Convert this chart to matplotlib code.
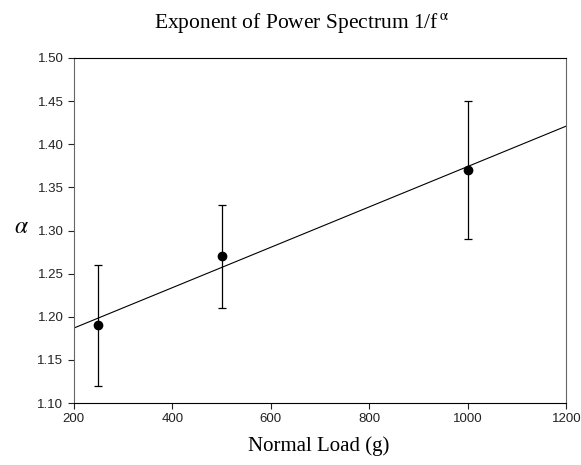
import numpy as np
import matplotlib
matplotlib.use('Agg')
import matplotlib.pyplot as plt

plt.rcParams['mathtext.fontset'] = 'stix'

# Data
load = [250, 500, 1000]
alpha = [1.19, 1.27, 1.37]
alpha_low = [1.12, 1.21, 1.29]
alpha_high = [1.26, 1.33, 1.45]

x_ticks = [200, 400, 600, 800, 1000, 1200]
y_ticks = [1.10, 1.15, 1.20, 1.25, 1.30, 1.35, 1.40, 1.45, 1.50]

fig = plt.figure(figsize=(5.81, 4.65), dpi=100)
ax = fig.add_axes([0.127, 0.1333, 0.848, 0.742])

# linear regression through the points
slope, intercept = np.polyfit(load, alpha, 1)
xs = np.array([x_ticks[0], x_ticks[-1]])
ax.plot(xs, slope * xs + intercept, color='black', linewidth=0.8)

yerr = [np.array(alpha) - np.array(alpha_low), np.array(alpha_high) - np.array(alpha)]
ax.errorbar(load, alpha, yerr=yerr, fmt='o', color='black', markersize=6,
            elinewidth=0.9, capsize=3, capthick=0.9)

ax.set_xlim(200, 1200)
ax.set_ylim(1.10, 1.50)
ax.set_xticks(x_ticks)
ax.set_yticks(y_ticks)
ax.set_yticklabels([f'{v:.2f}' for v in y_ticks])
ax.tick_params(direction='out', length=4, width=0.8, labelsize=9.5, colors='#222222',
               top=False, right=False)
for lbl in ax.get_xticklabels() + ax.get_yticklabels():
    lbl.set_fontfamily('Liberation Sans')
for side in ['left', 'right']:
    ax.spines[side].set_color('#666666')

serif = 'Liberation Serif'
fig.text(0.52, 0.950, r'Exponent of Power Spectrum 1/f$\,^{\mathrm{\alpha}}$', ha='center', va='center',
         fontsize=15.5, family=serif)
fig.text(0.037, 0.515, r'$\alpha$', ha='center', va='center', fontsize=17)
fig.text(0.549, 0.040, 'Normal Load (g)', ha='center', va='center', fontsize=15, family=serif)

fig.savefig('out.png', dpi=100)
